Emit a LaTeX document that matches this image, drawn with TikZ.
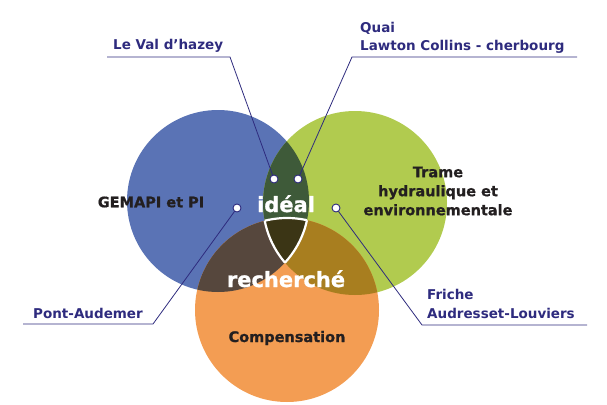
\documentclass[tikz,border=0pt]{standalone}
\usepackage{fontspec}
\setmainfont{DejaVu Sans}
\newfontfamily\heavyfont{DejaVu Sans}[BoldFeatures={FakeBold=0.9}]
\definecolor{colorBlue}{HTML}{5A73B5}
\definecolor{colorGreen}{HTML}{B1CB4F}
\definecolor{colorOrange}{HTML}{F39D53}
\definecolor{colorBG}{HTML}{3E5A39}
\definecolor{colorBO}{HTML}{56473D}
\definecolor{colorGO}{HTML}{A87E1F}
\definecolor{colorAll}{HTML}{3B3515}
\definecolor{colorNavy}{HTML}{2E2B7E}
\definecolor{colorText}{HTML}{231F20}
\usetikzlibrary{positioning}
\tikzset{
  setlabel/.style={font=\heavyfont\bfseries\fontsize{14.5}{19}\selectfont, text=colorText, align=center},
  keylabel/.style={font=\heavyfont\bfseries\fontsize{21}{24}\selectfont, text=white},
  sitelabel/.style={font=\bfseries\fontsize{13.5}{18.5}\selectfont, text=colorNavy, align=left},
  leader/.style={draw=colorNavy, line width=0.8pt},
  pin/.style={circle, draw=colorNavy, fill=white, line width=0.9pt, minimum size=8pt, outer sep=0pt},
  rim/.style={draw=white, line width=2.2pt}
}

\begin{document}
\begin{tikzpicture}[x=1pt, y=-1pt, every node/.style={inner sep=0pt}]
\useasboundingbox (0,0) rectangle (607,404);
\coordinate (cb) at (218,201);
\coordinate (cg) at (355,203);
\coordinate (co) at (287,310);
\fill[colorBlue] (cb) circle (91pt);
\fill[colorGreen] (cg) circle (92pt);
\fill[colorOrange] (co) circle (92pt);
\begin{scope}
\clip (cb) circle (91pt);
\fill[colorBG] (cg) circle (92pt);
\fill[colorBO] (co) circle (92pt);
\end{scope}
\begin{scope}
\clip (cg) circle (92pt);
\fill[colorGO] (co) circle (92pt);
\end{scope}
\begin{scope}
\clip (cb) circle (91pt);
\clip (cg) circle (92pt);
\fill[colorAll] (co) circle (92pt);
\draw[rim] (co) circle (92pt);
\end{scope}
\begin{scope}
\clip (cb) circle (91pt);
\clip (co) circle (92pt);
\draw[rim] (cg) circle (92pt);
\end{scope}
\begin{scope}
\clip (cg) circle (92pt);
\clip (co) circle (92pt);
\draw[rim] (cb) circle (91pt);
\end{scope}

\node[setlabel] (gemapi) at (151,202) {GEMAPI et PI};
\node[setlabel] (trame) at (438,191) {Trame\\hydraulique et\\environnementale};
\node[setlabel, anchor=base] (comp) at (287,342) {Compensation};
\node[keylabel, anchor=base] (ideal) at (286,212) {idéal};
\node[keylabel, anchor=base] (rech) at (286,287) {recherché};

\node[sitelabel, anchor=base west] (s1) at (113,50) {Le Val d’hazey};
\node[sitelabel, anchor=base west] (s2) at (360,51) {Quai\\Lawton Collins - cherbourg};
\node[sitelabel, anchor=base west] (s3) at (33,318) {Pont-Audemer};
\node[sitelabel, anchor=base west] (s4) at (427,318) {Friche\\Audresset-Louviers};

\coordinate (u1) at (107,57);
\coordinate (k1) at (230,57);
\coordinate (u2) at (577,57);
\coordinate (k2) at (352,57);
\coordinate (u3) at (23,324);
\coordinate (k3) at (153,324);
\coordinate (u4) at (587,325);
\coordinate (k4) at (422,325);

\node[pin] (p1) at (274,179) {};
\node[pin, right=16pt of p1] (p2) {};
\node[pin] (p3) at (237,208) {};
\node[pin] (p4) at (336,208) {};

\draw[leader] (u1) -- (k1) -- (p1);
\draw[leader] (u2) -- (k2) -- (p2);
\draw[leader] (u3) -- (k3) -- (p3);
\draw[leader] (u4) -- (k4) -- (p4);
\end{tikzpicture}
\end{document}
